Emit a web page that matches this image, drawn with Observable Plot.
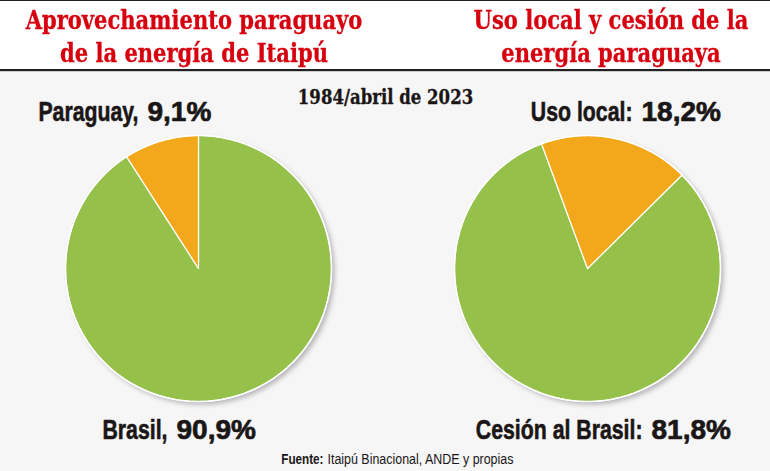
<!DOCTYPE html>
<html>
<head>
<meta charset="utf-8">
<script src="https://cdn.jsdelivr.net/npm/d3@7"></script>
<script src="https://cdn.jsdelivr.net/npm/@observablehq/plot@0.6"></script>
<style>
  html, body { margin: 0; padding: 0; }
  body { width: 770px; height: 471px; background: #f6f6f6; overflow: hidden; position: relative; }
  #header { position: relative; height: 68px; background: #fff; border-top: 1px solid #222; border-bottom: 2px solid #222; box-shadow: 0 1px 0 #ccc; }
  .title { position: absolute; top: 3px; color: #d7000f; font-family: "DejaVu Serif Condensed", "DejaVu Serif", serif; font-weight: bold; font-size: 26px; line-height: 33px; text-align: center; -webkit-text-stroke: 0.3px #d7000f; transform: scaleX(0.9); transform-origin: 50% 50%; white-space: nowrap; }
  #t1 { left: 0; width: 388px; }
  #t2 { left: 452px; width: 318px; }
  #chart { position: absolute; top: 71px; left: 0; }
</style>
</head>
<body>
<div id="header">
  <div class="title" id="t1">Aprovechamiento paraguayo<br>de la energía de Itaipú</div>
  <div class="title" id="t2">Uso local y cesión de la<br>energía paraguaya</div>
</div>
<div id="chart"></div>
<script>
// ---- data ----
const pie1Labels = ["Brasil", "Paraguay"];
const pie1Values = [90.9, 9.1];
const pie2Labels = ["Cesión al Brasil", "Uso local"];
const pie2Values = [81.8, 18.2];
const pie1Names = ["Brasil,", "Paraguay,"];
const pie2Names = ["Cesión al Brasil:", "Uso local:"];
const periodLabel = "1984/abril de 2023";
const sourceBold = "Fuente:";
const sourceText = "Itaipú Binacional, ANDE y propias";

// ---- layout / style ----
const W = 770, H = 400;
const GREEN = "#95c04a", ORANGE = "#f3a81c", INK = "#1b1616";
const sliceColors = [GREEN, ORANGE];
const sans = "'Liberation Sans', Arial, sans-serif";
const serifC = "'DejaVu Serif Condensed', 'DejaVu Serif', serif";
const deg = Math.PI / 180;
const pies = [
  {cx: 198, cy: 197, r: 133, start: 0, labels: pie1Labels, values: pie1Values, names: pie1Names,
   labelSplit: [167, 138], labelY: [367, 49]},
  {cx: 587, cy: 197, r: 133, start: 45.3 * deg, labels: pie2Labels, values: pie2Values, names: pie2Names,
   labelSplit: [642, 632], labelY: [367, 49]}
];
const fmt = v => v.toFixed(1).replace(".", ",") + "%";

// ---- geometry from data via d3.pie ----
const slicePts = [], outlinePts = [], texts = [];
pies.forEach((p, pi) => {
  const arcs = d3.pie().sort(null).startAngle(p.start).endAngle(p.start + 2 * Math.PI)(p.values);
  arcs.forEach((a, i) => {
    const key = pi + "-" + i;
    slicePts.push({key, x: p.cx, y: p.cy, color: sliceColors[i]});
    const n = Math.max(2, Math.ceil((a.endAngle - a.startAngle) / deg));
    for (let k = 0; k <= n; k++) {
      const t = a.startAngle + (a.endAngle - a.startAngle) * k / n;
      slicePts.push({key, x: p.cx + p.r * Math.sin(t), y: p.cy - p.r * Math.cos(t), color: sliceColors[i]});
    }
    slicePts.push({key, x: p.cx, y: p.cy, color: sliceColors[i]});
    texts.push({name: p.names[i], value: fmt(p.values[i]), xs: p.labelSplit[i], y: p.labelY[i]});
  });
  for (let k = 0; k <= 360; k += 2) {
    outlinePts.push({key: "o" + pi, x: p.cx + p.r * Math.sin(k * deg), y: p.cy - p.r * Math.cos(k * deg)});
  }
});

const plot = Plot.plot({
  width: W, height: H,
  margin: 0,
  x: {domain: [0, W], range: [0, W], axis: null},
  y: {domain: [0, H], range: [0, H], axis: null},
  style: {background: "transparent", overflow: "visible"},
  marks: [
    Plot.line(outlinePts, {x: "x", y: "y", z: "key", fill: "#9a9aa0", stroke: "none", dx: 3, dy: 3}),
    Plot.line(slicePts, {x: "x", y: "y", z: "key", fill: "color", stroke: "#fff", strokeWidth: 1.2, strokeLinejoin: "round"}),
    Plot.line(outlinePts, {x: "x", y: "y", z: "key", fill: "none", stroke: "#fff", strokeWidth: 1.5}),
    Plot.text(texts, {x: "xs", y: "y", text: "name", textAnchor: "end", lineAnchor: "bottom",
      fontFamily: sans, fontWeight: "bold", fontSize: 28, fill: INK, stroke: INK, strokeWidth: 0.6}),
    Plot.text(texts, {x: "xs", y: "y", text: "value", textAnchor: "start", lineAnchor: "bottom", dx: 9,
      fontFamily: sans, fontWeight: "bold", fontSize: 28, fill: INK, stroke: INK, strokeWidth: 0.7}),
    Plot.text([periodLabel], {x: () => 385, y: () => 32, text: d => d, textAnchor: "middle", lineAnchor: "bottom",
      fontFamily: serifC, fontWeight: "bold", fontSize: 20, fill: INK, stroke: INK, strokeWidth: 0.3}),
    Plot.text([sourceBold], {x: () => 323, y: () => 392, text: d => d, textAnchor: "end", lineAnchor: "bottom",
      fontFamily: sans, fontWeight: "bold", fontSize: 15, fill: INK}),
    Plot.text([sourceText], {x: () => 327, y: () => 392, text: d => d, textAnchor: "start", lineAnchor: "bottom",
      fontFamily: sans, fontWeight: "normal", fontSize: 15, fill: INK})
  ]
});

// post-styling: blurred shadow and condensed labels
const lineGroups = plot.querySelectorAll('g[aria-label="line"]');
if (lineGroups[0]) lineGroups[0].setAttribute("style", "filter: blur(2.5px); opacity: 0.7");
const textGroups = plot.querySelectorAll('g[aria-label="text"]');
function condense(g, k) {
  if (!g) return;
  g.querySelectorAll("text").forEach(t => {
    let tr = t.getAttribute("transform");
    if (!tr) {
      const x = t.getAttribute("x") || 0, y = t.getAttribute("y") || 0;
      t.removeAttribute("x"); t.removeAttribute("y");
      tr = `translate(${x},${y})`;
    }
    t.setAttribute("transform", tr + ` scale(${k},1)`);
  });
}
condense(textGroups[0], 0.76);
condense(textGroups[2], 0.92);
condense(textGroups[3], 0.78);
condense(textGroups[4], 0.83);
document.getElementById("chart").appendChild(plot);
</script>
</body>
</html>
